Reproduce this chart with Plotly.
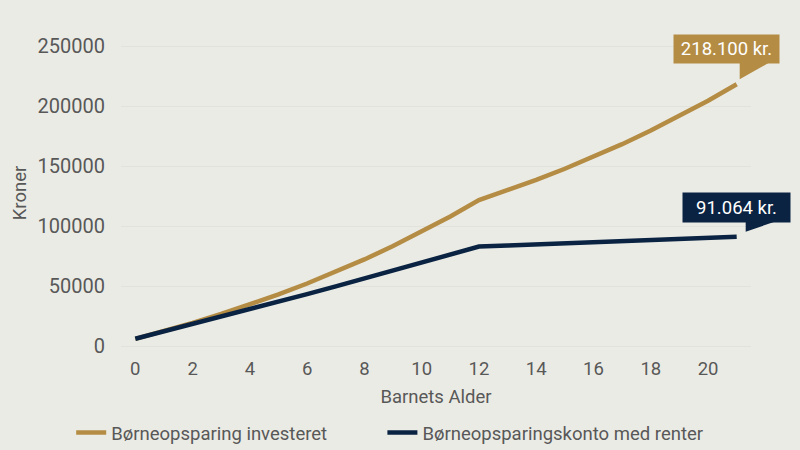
import plotly.graph_objects as go

ages = list(range(0, 22))
investeret = [6000, 12430, 19310, 26680, 34570, 43020, 52070, 61760, 72140, 83260,
              95170, 107920, 121580, 129700, 138400, 147700, 157600, 168200, 179500,
              191600, 204400, 218100]
konto = [6000, 12060, 18180, 24360, 30600, 36900, 43270, 49700, 56200, 62760,
         69390, 76080, 82840, 83710, 84590, 85480, 86380, 87290, 88210, 89140,
         90090, 91064]
names = ["Børneopsparing investeret", "Børneopsparingskonto med renter"]
labels = ["218.100 kr.", "91.064 kr."]
y_ticks = [0, 50000, 100000, 150000, 200000, 250000]
x_ticks = list(range(0, 21, 2))
x_range = [-0.5, 21.5]
y_range = [-7500, 262500]

GOLD = "#B48C44"
NAVY = "#0A2342"
BG = "#EBEBE5"
TXT = "#585858"
FONT = "Roboto"
FS = 18.5


def xd(v):
    return (v - x_range[0]) / (x_range[1] - x_range[0])


def yd(v):
    return (v - y_range[0]) / (y_range[1] - y_range[0])


fig = go.Figure()
fig.add_trace(go.Scatter(x=ages, y=investeret, mode="lines", name=names[0],
                         line=dict(color=GOLD, width=4.5), legend="legend"))
fig.add_trace(go.Scatter(x=ages, y=konto, mode="lines", name=names[1],
                         line=dict(color=NAVY, width=4.5), legend="legend2"))

# callout boxes
fig.add_annotation(x=ages[-1], y=investeret[-1], text=labels[0], showarrow=False,
                   xanchor="center", yanchor="middle", xshift=-10, yshift=35,
                   width=105, height=28, borderpad=0, bgcolor=GOLD,
                   font=dict(family=FONT, size=FS, color="white"))
fig.add_annotation(x=ages[-1], y=konto[-1], text=labels[1], showarrow=False,
                   xanchor="center", yanchor="middle", xshift=0, yshift=29,
                   width=107, height=29, borderpad=0, bgcolor=NAVY,
                   font=dict(family=FONT, size=FS, color="white"))
# callout tails (domain refs so they are not clipped by the plot area)
fig.add_shape(type="path", xref="x domain", yref="y domain", xsizemode="pixel", ysizemode="pixel",
              xanchor=xd(ages[-1]), yanchor=yd(investeret[-1]),
              path="M 3 22 L 3 5 L 33 22 Z", fillcolor=GOLD, line=dict(width=0))
fig.add_shape(type="path", xref="x domain", yref="y domain", xsizemode="pixel", ysizemode="pixel",
              xanchor=xd(ages[-1]), yanchor=yd(konto[-1]),
              path="M 9 16 L 9 5 L 41 16 Z", fillcolor=NAVY, line=dict(width=0))

leg_common = dict(orientation="h", xref="container", yref="container",
                  y=0.038, xanchor="left", yanchor="middle",
                  font=dict(size=FS, color=TXT), bgcolor="rgba(0,0,0,0)", itemwidth=30)

fig.update_layout(
    width=800, height=450,
    paper_bgcolor=BG, plot_bgcolor=BG,
    margin=dict(l=121, r=49, t=31, b=95, autoexpand=False),
    font=dict(family=FONT, color=TXT, size=FS),
    showlegend=True,
    legend=dict(x=0.089, **leg_common),
    legend2=dict(x=0.478, **leg_common),
    xaxis=dict(range=x_range, tickvals=x_ticks, showgrid=False, zeroline=False,
               showline=False, ticks="", tickfont=dict(size=FS, color=TXT),
               title=dict(text="Barnets Alder", font=dict(size=FS, color=TXT), standoff=11)),
    yaxis=dict(range=y_range, tickvals=y_ticks, showgrid=True,
               gridcolor="#E2E2DC", gridwidth=1, zeroline=False, showline=False,
               ticks="", tickformat="d", tickfont=dict(size=20, color=TXT),
               ticklabelstandoff=15,
               title=dict(text="Kroner", font=dict(size=FS, color=TXT), standoff=6)),
)

fig.write_html("out.html", config={"displayModeBar": False},
               post_script="document.body.style.margin='0';document.body.style.overflow='hidden';")
